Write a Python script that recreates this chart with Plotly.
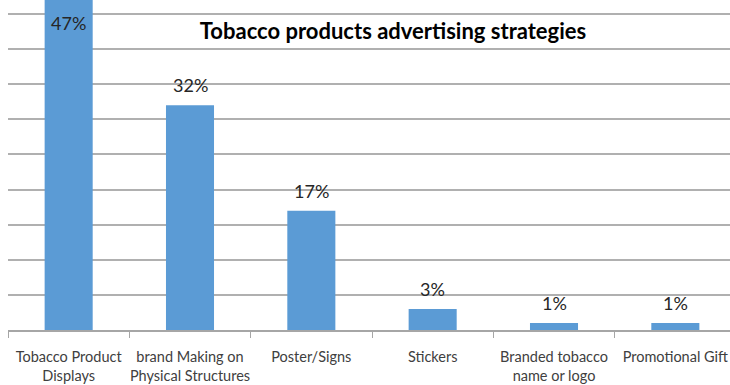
import plotly.graph_objects as go

categories = ["Tobacco Product<br>Displays", "brand Making on<br>Physical Structures",
              "Poster/Signs", "Stickers", "Branded tobacco<br>name or logo", "Promotional Gift"]
values = [47, 32, 17, 3, 1, 1]
labels = ["47%", "32%", "17%", "3%", "1%", "1%"]
title_text = "Tobacco products advertising strategies"

Y_MAX = 47.0
BAR_COLOR = "#5B9BD5"
FONT = "Lato"

fig = go.Figure()
fig.add_trace(go.Bar(x=categories, y=values, marker=dict(color=BAR_COLOR, line=dict(width=0)),
                     hoverinfo="skip"))

for c, v, t in zip(categories, values, labels):
    inside = v >= Y_MAX
    fig.add_annotation(x=c, y=min(v, Y_MAX), xref="x", yref="y", text=t, showarrow=False,
                       yshift=-23 if inside else 20, yanchor="middle",
                       font=dict(family=FONT, size=18, color="#262626"))

fig.update_layout(
    width=730, height=385,
    margin=dict(l=8, r=0, t=0, b=55),
    paper_bgcolor="white", plot_bgcolor="white",
    bargap=0.604,
    showlegend=False,
    title=dict(text="<b>" + title_text + "</b>", x=393 / 730, xref="container", xanchor="center",
               y=1 - 31 / 385, yref="container", yanchor="middle",
               font=dict(family=FONT, size=22, color="#000000")),
    xaxis=dict(range=[-0.5, 5.5 - 6 / 121.3], showline=True, linecolor="#a6a6a6", linewidth=1.5,
               ticks="outside", tickson="boundaries", ticklen=6, tickcolor="#a6a6a6", tickwidth=1,
               tickfont=dict(family=FONT, size=14.5, color="#404040"), tickangle=0,
               ticklabelstandoff=13, showgrid=False, fixedrange=True),
    yaxis=dict(range=[0, Y_MAX], dtick=5, showgrid=True, gridcolor="#b0b0b0", gridwidth=1.5,
               showticklabels=False, zeroline=False, showline=False, fixedrange=True),
)

fig.write_html("out.html")
